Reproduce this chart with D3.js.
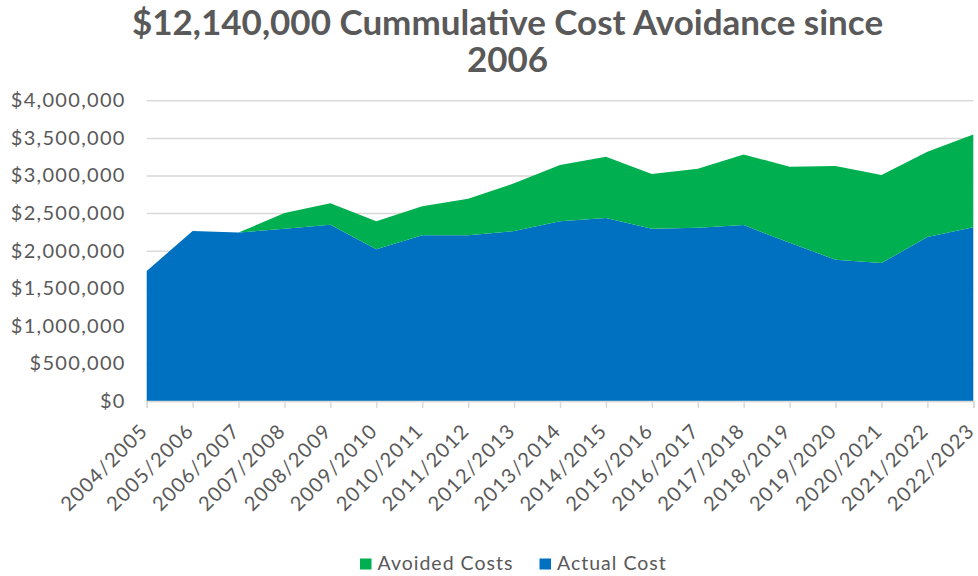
<!DOCTYPE html>
<html>
<head>
<meta charset="utf-8">
<script src="https://cdn.jsdelivr.net/npm/d3@7"></script>
<style>
  body { margin: 0; background: #fff; }
  text { font-family: Lato, "Noto Sans", sans-serif; fill: #595959; }
</style>
</head>
<body>
<div id="chart"></div>
<script>
// data
const years = ["2004/2005", "2005/2006", "2006/2007", "2007/2008", "2008/2009", "2009/2010",
  "2010/2011", "2011/2012", "2012/2013", "2013/2014", "2014/2015", "2015/2016", "2016/2017",
  "2017/2018", "2018/2019", "2019/2020", "2020/2021", "2021/2022", "2022/2023"]
const actualCost = [1730000, 2260000, 2240000, 2290000, 2345000, 2020000, 2205000, 2205000,
  2260000, 2390000, 2435000, 2290000, 2305000, 2340000, 2105000, 1880000, 1835000, 2180000, 2310000]
const avoidedCosts = [0, 0, 0, 210000, 285000, 370000, 385000, 485000, 635000, 750000, 815000,
  730000, 785000, 940000, 1010000, 1245000, 1170000, 1135000, 1235000]
const yTicks = [0, 500000, 1000000, 1500000, 2000000, 2500000, 3000000, 3500000, 4000000]
const titleLines = ["$12,140,000 Cummulative Cost Avoidance since", "2006"]
const keys = ["Actual Cost", "Avoided Costs"]
const legendKeys = ["Avoided Costs", "Actual Cost"]

const width = 978, height = 576
const margin = { top: 100.3, right: 4.7, bottom: 175, left: 146.7 }

const rows = years.map((y, i) => ({ year: y, "Actual Cost": actualCost[i], "Avoided Costs": avoidedCosts[i] }))

const colorScale = d3.scaleOrdinal().domain(keys).range(["#0070C0", "#00B050"])

const xScale = d3.scalePoint()
  .domain(years)
  .range([margin.left, width - margin.right])

const yScale = d3.scaleLinear()
  .domain([0, 4000000])
  .range([height - margin.bottom, margin.top])

const svg = d3.select("#chart")
  .append("svg")
  .attr("width", width)
  .attr("height", height)

// title, one text per line
svg.selectAll(".title")
  .data(titleLines)
  .enter().append("text")
  .attr("class", "title")
  .attr("x", 507.5)
  .attr("y", (d, i) => 34.5 + i * 37.5)
  .attr("text-anchor", "middle")
  .attr("font-size", "35px")
  .attr("font-weight", "bold")
  .text(d => d)

// gridlines + y labels
const yAxis = d3.axisLeft(yScale)
  .tickValues(yTicks)
  .tickSize(-(width - margin.left - margin.right))
  .tickPadding(21)
  .tickFormat(d => "$" + d3.format(",")(d))

svg.append("g")
  .attr("transform", `translate(${margin.left},0)`)
  .call(yAxis)
  .call(g => g.select(".domain").remove())
  .call(g => g.selectAll("line").attr("stroke", "#d9d9d9").attr("stroke-width", 1.5))
  .call(g => g.selectAll("text")
    .attr("font-size", "20px")
    .attr("letter-spacing", "1.3px")
    .attr("fill", "#595959")
    .attr("font-family", "Lato"))

// stacked areas
const stackedData = d3.stack().keys(keys)(rows)

const area = d3.area()
  .x(d => xScale(d.data.year))
  .y0(d => yScale(d[0]))
  .y1(d => yScale(d[1]))

svg.append("g")
  .selectAll("path")
  .data(stackedData)
  .enter().append("path")
  .attr("fill", d => colorScale(d.key))
  .attr("d", area)

// x axis
const xAxis = d3.axisBottom(xScale).tickSize(7).tickPadding(6)

svg.append("g")
  .attr("transform", `translate(0,${height - margin.bottom})`)
  .call(xAxis)
  .call(g => g.select(".domain").attr("stroke", "#d9d9d9").attr("stroke-width", 1.5))
  .call(g => g.selectAll("line").attr("stroke", "#d9d9d9").attr("stroke-width", 1.5))
  .call(g => g.selectAll("text")
    .attr("font-size", "20px")
    .attr("letter-spacing", "1.3px")
    .attr("fill", "#595959")
    .attr("font-family", "Lato")
    .attr("text-anchor", "end")
    .attr("x", 0)
    .attr("y", 0)
    .attr("dy", 0)
    .attr("transform", "translate(2,31) rotate(-45)"))

// legend
const legend = svg.append("g")
  .selectAll("g")
  .data(legendKeys)
  .enter().append("g")
  .attr("transform", (d, i) => `translate(${i === 0 ? 360 : 539.5},558.5)`)

legend.append("rect")
  .attr("width", 11.5)
  .attr("height", 11)
  .attr("fill", d => colorScale(d))

legend.append("text")
  .attr("x", 17.5)
  .attr("y", 11)
  .attr("font-size", "19.5px")
  .attr("letter-spacing", "1px")
  .text(d => d)
</script>
</body>
</html>
